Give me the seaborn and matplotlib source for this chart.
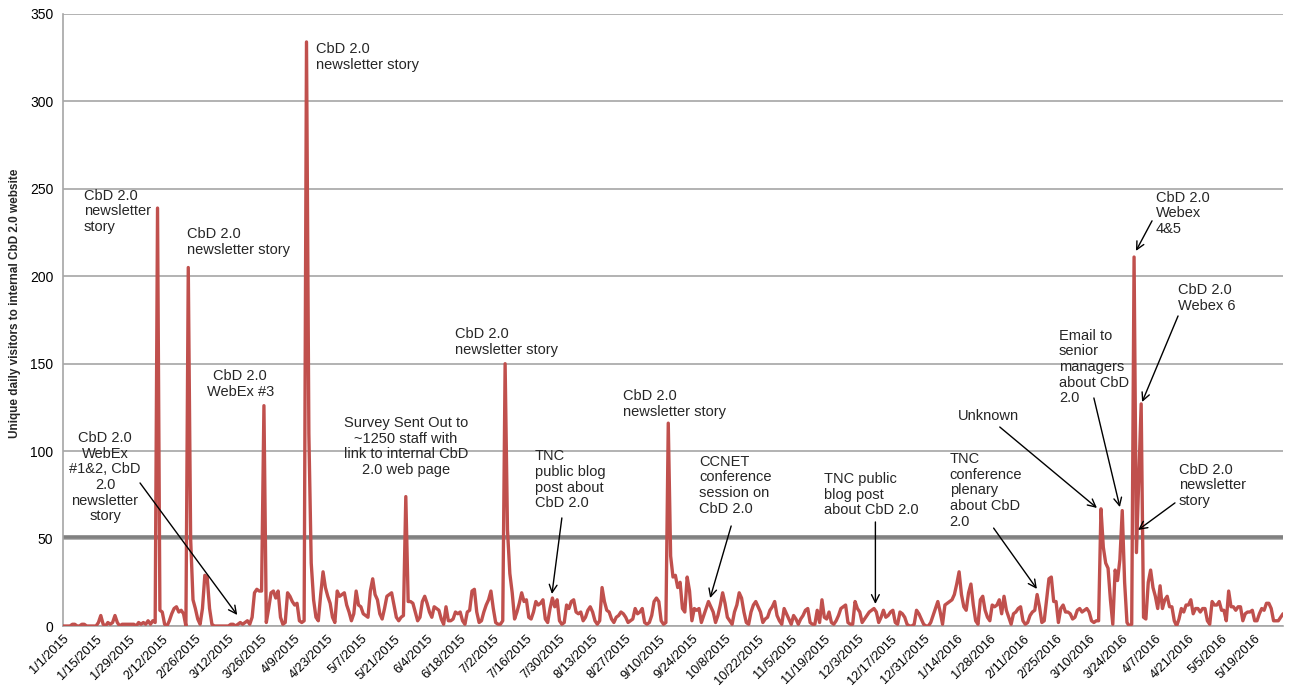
import pandas as pd
import seaborn as sns
import matplotlib.pyplot as plt
import matplotlib.dates as mdates

# daily unique visitors, one row per week starting 1/1/2015
start_date = "2015-01-01"
visitors = [
    0, 0, 0, 0, 1, 1, 0,
    0, 1, 1, 0, 0, 0, 0,
    0, 2, 6, 1, 0, 2, 1,
    2, 6, 2, 0, 1, 1, 1,
    1, 1, 1, 0, 2, 1, 2,
    1, 3, 1, 3, 2, 239, 9,
    8, 1, 0, 3, 7, 10, 11,
    8, 9, 7, 0, 205, 50, 15,
    10, 4, 1, 10, 29, 28, 10,
    1, 0, 0, 0, 0, 0, 0,
    0, 1, 1, 0, 1, 2, 1,
    2, 3, 1, 5, 19, 21, 20,
    20, 126, 2, 10, 19, 20, 16,
    20, 5, 1, 2, 19, 17, 14,
    12, 13, 3, 2, 3, 334, 110,
    36, 15, 5, 3, 18, 31, 22,
    17, 13, 5, 2, 20, 17, 18,
    19, 12, 8, 3, 7, 20, 12,
    11, 7, 6, 5, 20, 27, 18,
    15, 7, 4, 10, 17, 18, 19,
    12, 5, 3, 5, 6, 74, 14,
    14, 13, 8, 3, 5, 14, 17,
    13, 8, 5, 11, 10, 9, 4,
    1, 11, 3, 3, 4, 8, 7,
    8, 3, 1, 8, 9, 20, 21,
    8, 2, 3, 8, 12, 15, 20,
    10, 2, 1, 1, 3, 150, 55,
    30, 19, 4, 8, 13, 19, 14,
    15, 5, 4, 8, 14, 12, 13,
    15, 4, 2, 10, 16, 11, 15,
    3, 1, 2, 12, 10, 14, 15,
    8, 7, 8, 3, 5, 9, 11,
    8, 3, 1, 3, 22, 14, 9,
    8, 4, 2, 5, 6, 8, 7,
    5, 2, 3, 4, 10, 7, 8,
    10, 2, 1, 2, 6, 14, 16,
    14, 3, 1, 2, 116, 40, 28,
    29, 22, 25, 10, 8, 28, 20,
    3, 10, 9, 10, 2, 6, 10,
    14, 11, 8, 2, 6, 12, 19,
    13, 5, 3, 1, 8, 12, 19,
    16, 8, 2, 1, 8, 12, 14,
    11, 8, 2, 4, 5, 9, 11,
    14, 6, 3, 1, 10, 7, 4,
    1, 6, 4, 1, 4, 6, 9,
    10, 2, 1, 1, 9, 2, 15,
    5, 4, 8, 2, 1, 3, 6,
    10, 11, 12, 2, 1, 1, 14,
    10, 8, 2, 4, 6, 8, 9,
    10, 8, 2, 5, 9, 5, 6,
    8, 9, 2, 1, 8, 7, 5,
    1, 0, 0, 1, 9, 7, 4,
    1, 0, 0, 2, 6, 10, 14,
    8, 1, 12, 13, 14, 15, 18,
    24, 31, 18, 11, 9, 19, 24,
    12, 3, 1, 15, 17, 9, 5,
    3, 12, 11, 12, 15, 7, 17,
    9, 5, 1, 7, 8, 10, 11,
    3, 1, 2, 6, 8, 9, 18,
    11, 2, 3, 15, 27, 28, 14,
    14, 2, 10, 12, 8, 8, 7,
    4, 5, 9, 10, 8, 9, 10,
    8, 3, 2, 3, 3, 67, 45,
    36, 33, 15, 1, 32, 26, 38,
    66, 25, 2, 0, 1, 211, 42,
    85, 127, 5, 4, 25, 32, 22,
    17, 10, 23, 10, 15, 17, 11,
    11, 3, 0, 4, 10, 8, 12,
    12, 15, 7, 10, 10, 8, 10,
    10, 3, 1, 14, 12, 12, 14,
    9, 9, 3, 20, 11, 11, 9,
    11, 11, 3, 7, 8, 8, 9,
    3, 3, 7, 10, 9, 13, 13,
    10, 3, 3, 3, 5, 7,
]
threshold = 51
y_ticks = [0, 50, 100, 150, 200, 250, 300, 350]

# labels: text, day offset, value at top of text, alignment
notes = [
    ("CbD 2.0\nnewsletter\nstory", 8.9, 250, "left"),
    ("CbD 2.0\nnewsletter story", 52.5, 228, "left"),
    ("CbD 2.0\nnewsletter story", 107.2, 334, "left"),
    ("CbD 2.0\nWebEx #3", 75, 147, "center"),
    ("CbD 2.0\nWebEx\n#1&2, CbD\n2.0\nnewsletter\nstory", 17.8, 111.5, "center"),
    ("Survey Sent Out to\n~1250 staff with\nlink to internal CbD\n2.0 web page", 145, 120, "center"),
    ("CbD 2.0\nnewsletter story", 166, 171, "left"),
    ("TNC\npublic blog\npost about\nCbD 2.0", 199.6, 101, "left"),
    ("CbD 2.0\nnewsletter story", 236.9, 135.5, "left"),
    ("CCNET\nconference\nsession on\nCbD 2.0", 269, 98, "left"),
    ("TNC public\nblog post\nabout CbD 2.0", 322, 88, "left"),
    ("TNC\nconference\nplenary\nabout CbD\n2.0", 375, 99.5, "left"),
    ("Unknown", 378.4, 124, "left"),
    ("Email to\nsenior\nmanagers\nabout CbD\n2.0", 421.2, 170, "left"),
    ("CbD 2.0\nWebex\n4&5", 462.3, 249, "left"),
    ("CbD 2.0\nWebex 6", 471.6, 196, "left"),
    ("CbD 2.0\nnewsletter\nstory", 472, 93.5, "left"),
]
# arrows: (from day, from value), (to day, to value)
arrows = [
    ((32.6, 81.8), (73.7, 6.3)),
    ((211, 61.8), (206.8, 18.3)),
    ((282.6, 57.2), (273.7, 16)),
    ((343.6, 59.5), (343.6, 12.6)),
    ((393.6, 56), (411.9, 21.2)),
    ((396.2, 113.8), (437.3, 67.5)),
    ((436, 130.4), (447, 68)),
    ((460.6, 231.7), (453.8, 214.5)),
    ((471.6, 177.3), (456.4, 128.1)),
    ((470.3, 70.4), (454.7, 54.9)),
]

dates = pd.date_range(start_date, periods=len(visitors), freq="D")
df = pd.DataFrame({"date": dates, "visitors": visitors})

sns.set_style("white")
plt.rcParams["font.family"] = ["Liberation Sans", "DejaVu Sans"]

fig, ax = plt.subplots(figsize=(12.9, 6.88), dpi=100)
fig.subplots_adjust(left=0.0488, right=0.9946, top=0.9797, bottom=0.0901)

ax.axhline(threshold, color="#808080", lw=2.6, zorder=1)
sns.lineplot(data=df, x="date", y="visitors", color="#C0504D", lw=2.4, ax=ax, zorder=3)

ax.set_ylim(0, 350)
ax.set_xlim(dates[0], dates[-1])
ax.set_yticks(y_ticks)
ax.yaxis.grid(True, color="#A6A6A6", lw=1.2)
ax.set_axisbelow(True)

tick_dates = dates[::14]
ax.set_xticks(tick_dates)
ax.set_xticklabels([f"{d.month}/{d.day}/{d.year}" for d in tick_dates],
                   rotation=45, ha="right", va="top", rotation_mode="anchor")
ax.tick_params(axis="both", colors="#000000", width=1, direction="out")
ax.tick_params(axis="x", color="#A6A6A6", labelsize=9.2, length=3.5, pad=1.5)
ax.tick_params(axis="y", color="#A6A6A6", labelsize=10, length=4, pad=3)

for side in ["top", "right"]:
    ax.spines[side].set_visible(False)
for side in ["left", "bottom"]:
    ax.spines[side].set_color("#A6A6A6")
    ax.spines[side].set_linewidth(1.2)

ax.set_xlabel("")
ax.set_ylabel("Unique daily visitors to internal CbD 2.0 website",
              fontsize=8.5, fontweight="bold")
ax.yaxis.set_label_coords(-0.0344, 0.528)

base = mdates.date2num(dates[0])
for text, day, val, ha in notes:
    ax.text(base + day, val, text, ha=ha, va="top", fontsize=10.5,
            linespacing=1.15, zorder=5)

for (fx, fy), (tx, ty) in arrows:
    ax.annotate("", xy=(base + tx, ty), xytext=(base + fx, fy),
                arrowprops=dict(arrowstyle="->", color="black", lw=1,
                                shrinkA=0, shrinkB=0, mutation_scale=14),
                zorder=6)

plt.savefig("out.png", dpi=100)
